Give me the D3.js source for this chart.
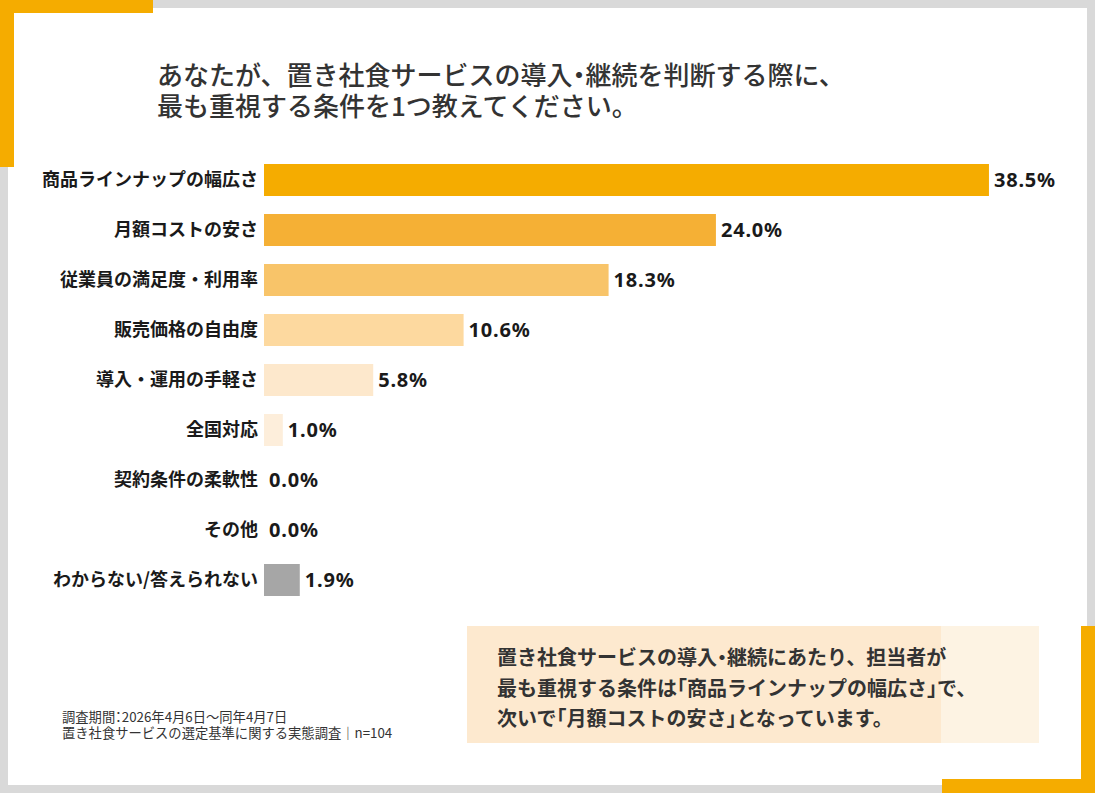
<!DOCTYPE html>
<html>
<head>
<meta charset="utf-8">
<script src="https://cdn.jsdelivr.net/npm/d3@7"></script>
<style>
  body { margin: 0; background: #d9d9d9; }
  svg { display: block; }
  .jp { font-family: "Noto Sans CJK JP", "Noto Sans", sans-serif; }
  .num { font-family: "Noto Sans", "DejaVu Sans", sans-serif; }
  .half { font-feature-settings: "halt"; }
</style>
</head>
<body>
<div class="chart"></div>
<script>
const categories = [
  "商品ラインナップの幅広さ",
  "月額コストの安さ",
  "従業員の満足度・利用率",
  "販売価格の自由度",
  "導入・運用の手軽さ",
  "全国対応",
  "契約条件の柔軟性",
  "その他",
  "わからない/答えられない"
]
const values = [38.5, 24.0, 18.3, 10.6, 5.8, 1.0, 0.0, 0.0, 1.9]
const barColors = ["#f5ac00", "#f5b035", "#f8c469", "#fdd99f", "#fde8cc", "#fdeedb", "#fdeedb", "#fdeedb", "#a6a6a6"]

const titleLines = [
  "あなたが、置き社食サービスの導入・継続を判断する際に、",
  "最も重視する条件を1つ教えてください。"
]
const noteLines = [
  "調査期間：2026年4月6日～同年4月7日",
  "置き社食サービスの選定基準に関する実態調査｜n=104"
]
const summaryLines = [
  "置き社食サービスの導入・継続にあたり、担当者が",
  "最も重視する条件は「商品ラインナップの幅広さ」で、",
  "次いで「月額コストの安さ」となっています。"
]

const width = 1095
const height = 793
const data = categories.map((c, i) => ({name: c, value: values[i], color: barColors[i]}))

const svg = d3.select(".chart")
  .append("svg")
  .attr("width", width)
  .attr("height", height)

// multi-line text in one element, brackets / dots set half width like the original
const addLines = (sel, lines, x, y0, lh) => {
  lines.forEach((line, i) => {
    line.split(/([「」・：])/).filter(s => s.length).forEach((seg, j) => {
      const t = sel.append("tspan").text(seg)
      if (j === 0) t.attr("x", x).attr("y", y0 + i * lh)
      if (/^[「」・：]$/.test(seg)) t.attr("class", "half")
    })
  })
}

// card + frame
svg.append("rect").attr("width", width).attr("height", height).attr("fill", "#d9d9d9")
svg.append("rect").attr("x", 8).attr("y", 8).attr("width", 1079).attr("height", 777).attr("fill", "#fff")

const orange = "#f5ac00"
// top-left corner
svg.append("rect").attr("x", 0).attr("y", 0).attr("width", 153).attr("height", 13).attr("fill", orange)
svg.append("rect").attr("x", 0).attr("y", 0).attr("width", 14).attr("height", 167).attr("fill", orange)
// bottom-right corner
svg.append("rect").attr("x", 1081).attr("y", 626).attr("width", 14).attr("height", 167).attr("fill", orange)
svg.append("rect").attr("x", 942).attr("y", 779).attr("width", 153).attr("height", 14).attr("fill", orange)

// title
let title = svg.append("text")
  .attr("class", "jp")
  .attr("font-size", 26)
  .attr("font-weight", 500)
  .attr("fill", "#333")
addLines(title, titleLines, 157, 85, 31)

// scales
const xScale = d3.scaleLinear().domain([0, 40]).range([264, 264 + 40 * 18.83])
const yScale = d3.scaleBand()
  .domain(categories)
  .range([155, 605])
  .paddingInner(0.36)
  .paddingOuter(0.18)

const rows = svg.append("g").selectAll("g")
  .data(data)
  .join("g")

rows.append("rect")
  .attr("x", xScale(0))
  .attr("y", d => yScale(d.name))
  .attr("width", d => xScale(d.value) - xScale(0))
  .attr("height", yScale.bandwidth())
  .attr("fill", d => d.color)

rows.append("text")
  .attr("class", "jp")
  .attr("x", xScale(0) - 6)
  .attr("y", d => yScale(d.name) + yScale.bandwidth() / 2)
  .attr("dy", "0.35em")
  .attr("text-anchor", "end")
  .attr("font-size", 18)
  .attr("font-weight", 700)
  .attr("fill", "#1a1a1a")
  .text(d => d.name)

rows.append("text")
  .attr("class", "num")
  .attr("x", d => xScale(d.value) + 5)
  .attr("y", d => yScale(d.name) + yScale.bandwidth() / 2)
  .attr("dy", "0.36em")
  .attr("font-size", 20)
  .attr("font-weight", 700)
  .attr("letter-spacing", 0.8)
  .attr("fill", "#1a1a1a")
  .text(d => d.value.toFixed(1) + "%")

// notes
let notes = svg.append("text")
  .attr("class", "jp")
  .attr("font-size", 13.3)
  .attr("fill", "#333")
addLines(notes, noteLines, 62, 722, 16)

// summary box
svg.append("rect").attr("x", 467).attr("y", 626).attr("width", 572).attr("height", 117).attr("fill", "#fdf3e3")
svg.append("rect").attr("x", 467).attr("y", 626).attr("width", 474).attr("height", 117).attr("fill", "#fde9cf")

let summary = svg.append("text")
  .attr("class", "jp")
  .attr("font-size", 20)
  .attr("font-weight", 700)
  .attr("fill", "#333")
addLines(summary, summaryLines, 497, 665, 30.5)
</script>
</body>
</html>
